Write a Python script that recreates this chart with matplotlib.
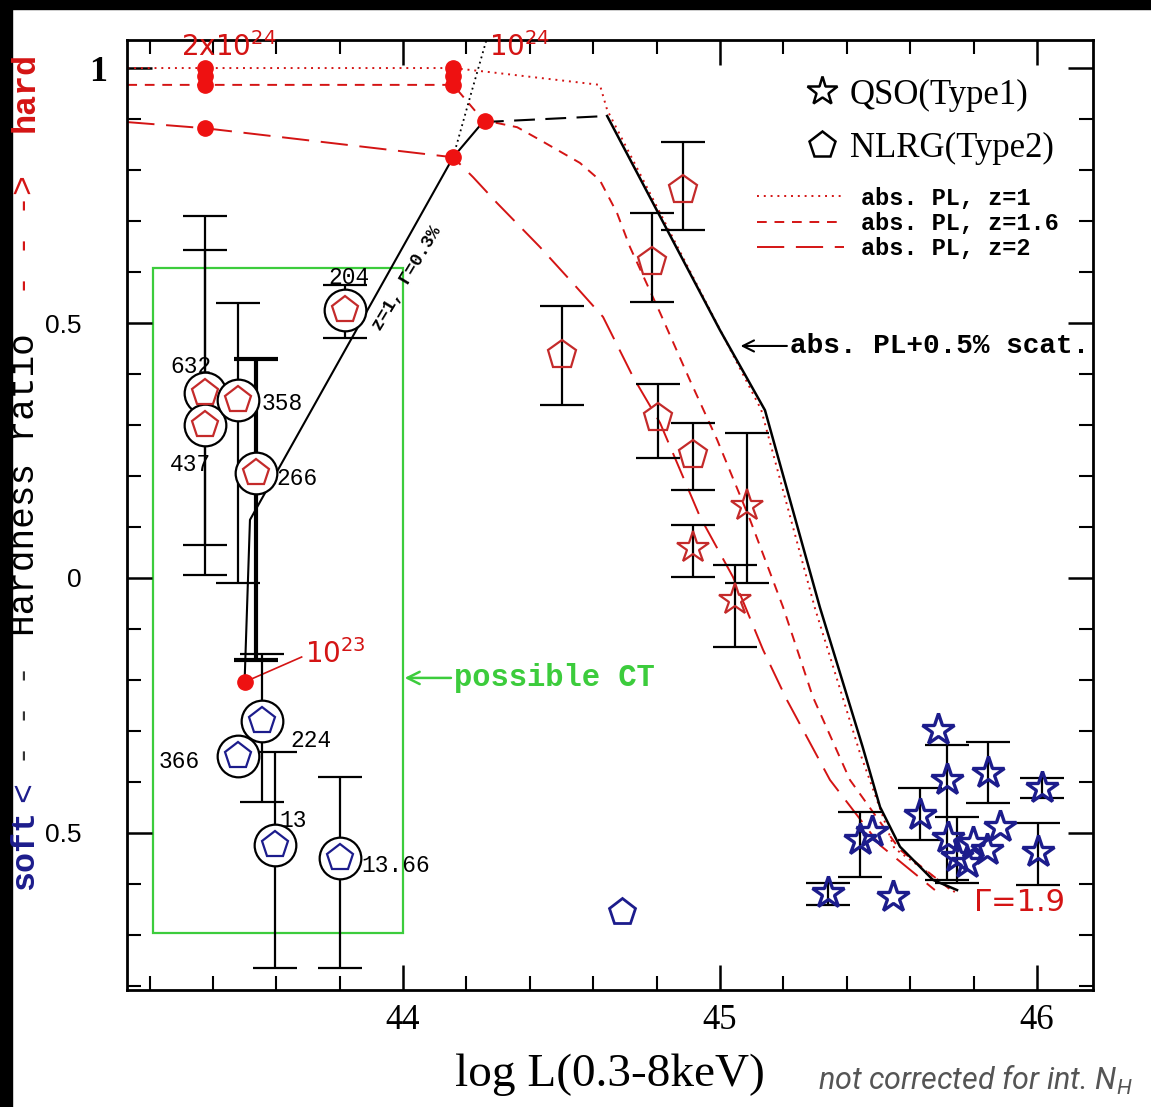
import matplotlib
matplotlib.use("Agg")
import numpy as np
import matplotlib.pyplot as plt
from matplotlib.patches import Rectangle
from matplotlib.lines import Line2D
from matplotlib.ticker import MultipleLocator

# Datos (log L, hardness ratio)

# modelos: PL absorbida a distintos z
m1_x = [43.13, 44.158, 44.274, 44.621, 44.644, 45.13, 45.30, 45.44, 45.55, 45.75]
m1_y = [1.0, 1.0, 0.992, 0.967, 0.918, 0.33, -0.06, -0.34, -0.53, -0.62]
m16_x = [43.13, 44.158, 44.252, 44.36, 44.432, 44.558, 44.621, 44.675, 44.716, 44.811,
         44.905, 44.991, 45.095, 45.199, 45.293, 45.41, 45.568, 45.741]
m16_y = [0.967, 0.967, 0.898, 0.884, 0.859, 0.814, 0.78, 0.716, 0.649, 0.52,
         0.388, 0.271, 0.114, -0.057, -0.233, -0.396, -0.533, -0.618]
m2_x = [43.13, 43.375, 44.158, 44.221, 44.297, 44.432, 44.536, 44.631, 44.726, 44.811,
        44.937, 45.041, 45.136, 45.211, 45.347, 45.505, 45.678]
m2_y = [0.894, 0.882, 0.825, 0.786, 0.735, 0.649, 0.578, 0.512, 0.394, 0.304,
        0.12, 0.002, -0.141, -0.239, -0.396, -0.524, -0.612]

# modelo PL absorbida + 0.5% scattering
scat_x = [43.50, 43.517, 44.158, 44.252]
scat_y = [-0.204, 0.114, 0.825, 0.894]
scat2_x = [44.252, 44.644]
scat2_y = [0.894, 0.906]
scat3_x = [44.644, 45.0, 45.142, 45.315, 45.45, 45.505, 45.568, 45.672, 45.748]
scat3_y = [0.906, 0.486, 0.329, -0.057, -0.331, -0.449, -0.527, -0.592, -0.612]
nh_x = [44.158, 44.21, 44.27]
nh_y = [0.825, 0.94, 1.07]

# puntos NH del modelo
dot_x = [43.375, 43.375, 43.375, 43.375, 44.158, 44.158, 44.158, 44.158, 44.259, 43.50]
dot_y = [1.0, 0.985, 0.967, 0.882, 1.0, 0.985, 0.967, 0.825, 0.896, -0.204]

# NLRG (Type2) rojos
rp_x = [44.883, 44.785, 44.50, 44.804, 44.915]
rp_y = [0.761, 0.62, 0.437, 0.314, 0.241]
rp_lo = [0.682, 0.541, 0.339, 0.235, 0.173]
rp_hi = [0.855, 0.716, 0.533, 0.38, 0.304]

# QSO (Type1) rojos
rs_x = [45.085, 44.915, 45.047]
rs_y = [0.141, 0.059, -0.043]
rs_lo = [-0.01, 0.002, -0.135]
rs_hi = [0.284, 0.104, 0.025]

# NLRG con circulo (posibles CT), rojos
cr_x = [43.817, 43.375, 43.375, 43.48, 43.535]
cr_y = [0.525, 0.363, 0.30, 0.35, 0.205]
cr_lo = [0.47, 0.065, 0.006, -0.01, -0.16]
cr_hi = [0.575, 0.71, 0.643, 0.54, 0.43]
cr_lab = ["204", "632", "437", "358", "266"]

# NLRG con circulo, azules
cb_x = [43.555, 43.48, 43.596, 43.80]
cb_y = [-0.28, -0.35, -0.524, -0.549]
cb_lo = [-0.44, np.nan, -0.765, -0.765]
cb_hi = [-0.15, np.nan, -0.341, -0.39]
cb_lab = ["224", "366", "13", "13.66"]

# NLRG azul sin circulo
bp_x = [44.69]
bp_y = [-0.655]

# QSO (Type1) azules
bs_x = [45.688, 45.716, 45.845, 46.016, 46.003, 45.631, 45.883, 45.442, 45.479,
        45.748, 45.798, 45.842, 45.779, 45.341, 45.546, 45.72]
bs_y = [-0.298, -0.396, -0.382, -0.412, -0.537, -0.465, -0.488, -0.514, -0.498,
        -0.547, -0.520, -0.533, -0.559, -0.618, -0.625, -0.51]
bs_lo = [np.nan, -0.592, -0.441, -0.431, -0.602, -0.514, np.nan, -0.586, np.nan,
         -0.598, np.nan, np.nan, np.nan, -0.641, np.nan, np.nan]
bs_hi = [np.nan, -0.327, -0.322, -0.392, -0.48, -0.412, np.nan, -0.459, np.nan,
         -0.469, np.nan, np.nan, np.nan, -0.598, np.nan, np.nan]

RED = "#d41414"
PRED = "#c42a2a"
BLUE = "#1c1c8c"
GREEN = "#3ccc3c"
MONO = "Liberation Mono"
SERIF = "Liberation Serif"


def barras(ax, x, y, lo, hi, lw=1.6):
    x = np.array(x); y = np.array(y); lo = np.array(lo); hi = np.array(hi)
    ok = ~np.isnan(lo)
    ax.errorbar(x[ok], y[ok], yerr=[y[ok] - lo[ok], hi[ok] - y[ok]], fmt="none",
                ecolor="k", elinewidth=lw, capsize=16, capthick=lw, zorder=3)


fig = plt.figure(figsize=(11.51, 11.07), dpi=100)
fig.patch.set_facecolor("white")
fig.patches.append(Rectangle((0, 1 - 9 / 1107), 1, 9 / 1107, transform=fig.transFigure,
                             color="black"))
fig.patches.append(Rectangle((0, 0), 12 / 1151, 1, transform=fig.transFigure, color="black"))

ax = fig.add_axes([127 / 1151, 1 - 990 / 1107, 966 / 1151, 950 / 1107])

# Modelos
ax.plot(m1_x, m1_y, color=RED, lw=1.4, ls=(0, (1, 2.5)), zorder=2)
ax.plot(m16_x, m16_y, color=RED, lw=1.4, ls=(0, (5, 4)), zorder=2)
ax.plot(m2_x, m2_y, color=RED, lw=1.4, ls=(0, (14, 6)), zorder=2)
ax.plot(scat_x, scat_y, color="k", lw=1.5, zorder=2)
ax.plot(scat2_x, scat2_y, color="k", lw=1.5, ls=(0, (10, 5)), zorder=2)
ax.plot(scat3_x, scat3_y, color="k", lw=1.8, zorder=2)
ax.plot(nh_x, nh_y, color="k", lw=1.3, ls=(0, (1, 2)), zorder=2)
ax.plot(dot_x, dot_y, "o", color="#ee1111", ms=11, zorder=4)

# Caja de posibles CT
ax.add_patch(Rectangle((43.21, -0.696), 0.79, 1.304, fill=False, ec=GREEN, lw=1.6, zorder=1))

# Barras de error
barras(ax, rp_x, rp_y, rp_lo, rp_hi)
barras(ax, rs_x, rs_y, rs_lo, rs_hi)
barras(ax, cr_x[:4], cr_y[:4], cr_lo[:4], cr_hi[:4])
barras(ax, cr_x[4:], cr_y[4:], cr_lo[4:], cr_hi[4:], lw=3)
barras(ax, cb_x, cb_y, cb_lo, cb_hi)
barras(ax, bs_x, bs_y, bs_lo, bs_hi)

# Puntos
ax.plot(rp_x, rp_y, "p", ms=21, mfc="none", mec=PRED, mew=1.6, zorder=5)
ax.plot(rs_x, rs_y, "*", ms=24, mfc="none", mec=PRED, mew=1.6, zorder=5)
ax.plot(cr_x, cr_y, "o", ms=30, mfc="white", mec="k", mew=1.6, zorder=5)
ax.plot(cr_x, cr_y, "p", ms=20, mfc="none", mec=PRED, mew=1.6, zorder=6)
ax.plot(cb_x, cb_y, "o", ms=30, mfc="white", mec="k", mew=1.6, zorder=5)
ax.plot(cb_x, cb_y, "p", ms=20, mfc="none", mec=BLUE, mew=1.6, zorder=6)
ax.plot(bp_x, bp_y, "p", ms=20, mfc="none", mec=BLUE, mew=2, zorder=5)
ax.plot(bs_x, bs_y, "*", ms=24, mfc="none", mec=BLUE, mew=2.4, zorder=5)

# Etiquetas de las fuentes
lab_pos = {"204": (43.83, 0.59, "center"), "632": (43.33, 0.414, "center"),
           "437": (43.33, 0.222, "center"), "358": (43.555, 0.343, "left"),
           "266": (43.60, 0.196, "left"), "224": (43.645, -0.318, "left"),
           "366": (43.36, -0.36, "right"), "13": (43.61, -0.475, "left"),
           "13.66": (43.87, -0.563, "left")}
for lab, (lx, ly, ha) in lab_pos.items():
    ax.text(lx, ly, lab, fontsize=16.5, family=MONO, ha=ha, va="center", zorder=7)

# Anotaciones
ax.text(43.30, 1.012, r"2x10$^{24}$", color=RED, fontsize=20, va="bottom")
ax.text(44.27, 1.012, r"10$^{24}$", color=RED, fontsize=20, va="bottom")
ax.plot([43.50, 43.68], [-0.204, -0.155], color=RED, lw=1.2)
ax.text(43.69, -0.15, r"10$^{23}$", color=RED, fontsize=20, va="center")
ax.text(44.013, 0.588, "z=1, Γ=0.3%", fontsize=13, family=MONO, fontweight="bold",
        rotation=59, rotation_mode="anchor", ha="center", va="center")
ax.annotate("possible CT", xy=(44.005, -0.196), xytext=(44.16, -0.196), color=GREEN,
            fontsize=22, fontweight="bold", family=MONO, va="center",
            arrowprops=dict(arrowstyle="->", color=GREEN, lw=1.8, shrinkA=0, shrinkB=0))
ax.annotate("abs. PL+0.5% scat.", xy=(45.065, 0.455), xytext=(45.22, 0.455), color="k",
            fontsize=20, fontweight="bold", family=MONO, va="center",
            arrowprops=dict(arrowstyle="->", color="k", lw=1.5, shrinkA=0, shrinkB=0))
ax.text(45.80, -0.637, "Γ=1.9", color=RED, fontsize=22, va="center")

# Leyendas
h1 = [Line2D([], [], marker="*", ls="none", ms=22, mfc="none", mec="k", mew=1.8),
      Line2D([], [], marker="p", ls="none", ms=20, mfc="none", mec="k", mew=1.8)]
leg1 = ax.legend(h1, ["QSO(Type1)", "NLRG(Type2)"], loc="upper left",
                 bbox_to_anchor=(0.687, 0.974), frameon=False, handlelength=1.0,
                 handletextpad=0.3, borderaxespad=0, labelspacing=0.58,
                 prop={"family": SERIF, "size": 25})
ax.add_artist(leg1)
h2 = [Line2D([], [], color=RED, lw=1.4, ls=(0, (1, 2.5))),
      Line2D([], [], color=RED, lw=1.4, ls=(0, (5, 4))),
      Line2D([], [], color=RED, lw=1.4, ls=(0, (14, 6)))]
ax.legend(h2, ["abs. PL, z=1", "abs. PL, z=1.6", "abs. PL, z=2"], loc="upper left",
          bbox_to_anchor=(0.63, 0.868), frameon=False, handlelength=3.7, handletextpad=0.7,
          labelspacing=0.1, prop={"family": MONO, "size": 17, "weight": "bold"})

# Ejes
ax.set_xlim(43.129, 46.177)
ax.set_ylim(-0.808, 1.055)
ax.set_xticks([44, 45, 46])
ax.set_xticklabels(["44", "45", "46"], family=SERIF, fontsize=25)
ax.xaxis.set_minor_locator(MultipleLocator(0.2))
ax.set_yticks([-0.5, 0, 0.5, 1])
ax.set_yticklabels(["0.5", "0", "0.5", "1"], family="Liberation Sans", fontsize=19)
ax.yaxis.set_minor_locator(MultipleLocator(0.1))
ax.tick_params(which="both", direction="in", top=True, right=True)
ax.tick_params(which="major", length=18, width=1.8)
ax.tick_params(which="minor", length=10, width=1.5)
ax.tick_params(axis="x", pad=10)
ax.tick_params(axis="y", pad=33)
t1 = ax.yaxis.get_major_ticks()[3]
t1.set_pad(14)
t1.label1.set_fontfamily(SERIF)
t1.label1.set_fontweight("bold")
t1.label1.set_fontsize(26)
for s in ax.spines.values():
    s.set_linewidth(2)

ax.set_xlabel("log L(0.3-8keV)", family=SERIF, fontsize=34, labelpad=12)

# Etiqueta del eje y en partes de color
fx = 25 / 1151
fig.text(fx, 1 - 850 / 1107, "soft", color=BLUE, rotation=90, fontsize=24, family=MONO,
         fontweight="bold", ha="center", va="center")
fig.text(fx, 1 - 792 / 1107, "<", color=BLUE, rotation=90, fontsize=24, family=MONO,
         ha="center", va="center")
fig.text(fx, 1 - 715 / 1107, "- - -", color="#333333", rotation=90, fontsize=24,
         family=MONO, ha="center", va="center")
fig.text(fx, 1 - 485 / 1107, "Hardness ratio", color="k", rotation=90, fontsize=26,
         family=MONO, ha="center", va="center")
fig.text(fx, 1 - 235 / 1107, "- - ->", color=RED, rotation=90, fontsize=24,
         family=MONO, ha="center", va="center")
fig.text(fx, 1 - 92 / 1107, "hard", color=RED, rotation=90, fontsize=24, family=MONO,
         fontweight="bold", ha="center", va="center")

fig.text(818 / 1151, 1 - 1080 / 1107, r"not corrected for int. N$_{\mathregular{H}}$",
         color="#555555", fontsize=22, style="italic", family="Roboto", va="center")

fig.savefig("out.png", dpi=100, facecolor=fig.get_facecolor())
